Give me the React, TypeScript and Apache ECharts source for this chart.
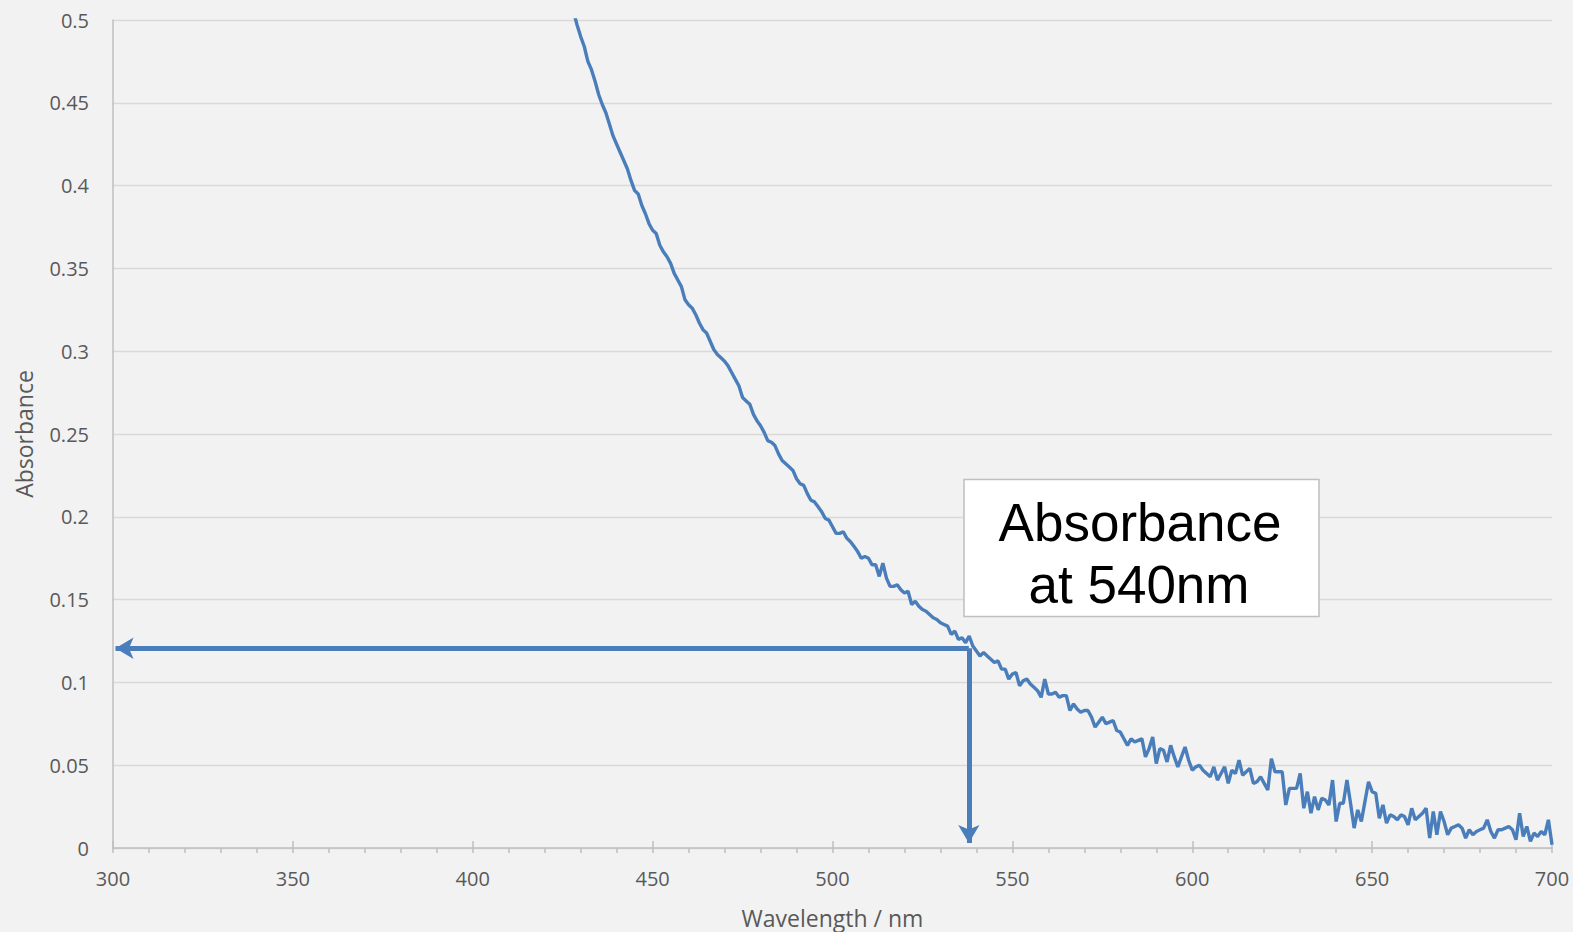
import React, { useEffect, useRef } from "react";
import * as echarts from "echarts";

// Absorbance spectrum, 1 nm steps starting at START_NM
const START_NM = 428;
const absorbance = [
  0.505, 0.497, 0.49, 0.484, 0.475, 0.47, 0.463, 0.455, 0.449, 0.444,
  0.437, 0.43, 0.425, 0.42, 0.415, 0.41, 0.403, 0.397, 0.395, 0.388,
  0.383, 0.377, 0.373, 0.371, 0.364, 0.36, 0.357, 0.353, 0.347, 0.343,
  0.339, 0.331, 0.328, 0.326, 0.322, 0.317, 0.313, 0.311, 0.306, 0.301,
  0.298, 0.296, 0.294, 0.291, 0.287, 0.283, 0.279, 0.272, 0.27, 0.268,
  0.262, 0.258, 0.255, 0.251, 0.246, 0.245, 0.243, 0.238, 0.234, 0.232,
  0.23, 0.228, 0.223, 0.22, 0.219, 0.214, 0.21, 0.209, 0.206, 0.203,
  0.199, 0.198, 0.194, 0.19, 0.19, 0.191, 0.187, 0.185, 0.182, 0.179,
  0.175, 0.176, 0.175, 0.171, 0.171, 0.164, 0.172, 0.163, 0.158, 0.158,
  0.159, 0.156, 0.154, 0.155, 0.147, 0.149, 0.146, 0.144, 0.143, 0.141,
  0.139, 0.138, 0.136, 0.135, 0.134, 0.129, 0.131, 0.126, 0.127, 0.124,
  0.128, 0.122, 0.119, 0.116, 0.118, 0.116, 0.114, 0.112, 0.113, 0.108,
  0.108, 0.102, 0.105, 0.106, 0.098, 0.101, 0.102, 0.099, 0.097, 0.095,
  0.091, 0.102, 0.093, 0.093, 0.094, 0.091, 0.092, 0.092, 0.083, 0.087,
  0.084, 0.082, 0.083, 0.083, 0.079, 0.073, 0.076, 0.079, 0.075, 0.076,
  0.077, 0.071, 0.07, 0.066, 0.062, 0.066, 0.064, 0.065, 0.066, 0.055,
  0.06, 0.067, 0.051, 0.06, 0.059, 0.052, 0.062, 0.055, 0.049, 0.055,
  0.061, 0.053, 0.047, 0.049, 0.05, 0.047, 0.045, 0.043, 0.049, 0.041,
  0.045, 0.049, 0.039, 0.047, 0.045, 0.053, 0.044, 0.046, 0.048, 0.039,
  0.04, 0.043, 0.039, 0.035, 0.054, 0.046, 0.046, 0.046, 0.026, 0.036,
  0.036, 0.036, 0.045, 0.024, 0.034, 0.021, 0.031, 0.023, 0.03, 0.029,
  0.026, 0.041, 0.016, 0.027, 0.027, 0.041, 0.027, 0.012, 0.023, 0.016,
  0.028, 0.04, 0.034, 0.033, 0.018, 0.026, 0.015, 0.02, 0.019, 0.017,
  0.02, 0.019, 0.014, 0.024, 0.017, 0.019, 0.021, 0.024, 0.006, 0.022,
  0.008, 0.022, 0.016, 0.008, 0.012, 0.013, 0.014, 0.012, 0.006, 0.011,
  0.008, 0.01, 0.011, 0.012, 0.017, 0.01, 0.006, 0.011, 0.011, 0.012,
  0.013, 0.011, 0.005, 0.021, 0.007, 0.013, 0.004, 0.009, 0.007, 0.01,
  0.008, 0.017, 0.002,
];
const wavelengths = absorbance.map((_, i) => START_NM + i);

// Annotation arrows (data coordinates)
const readWavelength = 537.9;
const readAbsorbance = 0.1206;
const arrowLeftEnd = 300.7;
const arrowBottomEnd = 0.003;

const xTicks = { min: 300, max: 700, interval: 50 };
const yTicks = { min: 0, max: 0.5, interval: 0.05 };

const annotationLines = ["Absorbance", "at 540nm"];

const BLUE = "#4a7ebb";
const LABEL = "#595959";
const FONT = "'Open Sans', sans-serif";

export default function App() {
  const ref = useRef<HTMLDivElement>(null);

  useEffect(() => {
    document.body.style.margin = "0";
    if (!ref.current) return;
    const chart = echarts.init(ref.current, null, { renderer: "svg" });
    const seriesData = wavelengths.map((w, i) => [w, absorbance[i]]);

    chart.setOption({
      animation: false,
      backgroundColor: "#f2f2f2",
      grid: {
        left: 113,
        right: 21,
        top: 20,
        bottom: 84,
        containLabel: false,
        outerBoundsMode: "none",
      },
      xAxis: [
        {
          type: "value",
          min: xTicks.min,
          max: xTicks.max,
          interval: xTicks.interval,
          position: "bottom",
          name: "Wavelength / nm",
          nameLocation: "middle",
          nameGap: 58,
          nameTextStyle: { color: LABEL, fontSize: 23, fontFamily: FONT },
          axisLine: { show: true, lineStyle: { color: "#bfbfbf", width: 1.5 } },
          axisTick: { show: true, inside: false, length: 5, lineStyle: { color: "#bfbfbf", width: 1.5 } },
          minorTick: { show: true, splitNumber: 5, length: 5, lineStyle: { color: "#bfbfbf", width: 1.5 } },
          axisLabel: { color: LABEL, fontSize: 20, fontFamily: FONT, margin: 20 },
          splitLine: { show: false },
        },
        {
          type: "value",
          min: xTicks.min,
          max: xTicks.max,
          interval: xTicks.interval,
          position: "bottom",
          offset: 0,
          axisLine: { show: false },
          axisTick: { show: true, inside: true, length: 7, lineStyle: { color: "#bfbfbf", width: 1.5 } },
          axisLabel: { show: false },
          splitLine: { show: false },
        },
      ],
      yAxis: {
        type: "value",
        min: yTicks.min,
        max: yTicks.max,
        interval: yTicks.interval,
        name: "Absorbance",
        nameLocation: "middle",
        nameRotate: 90,
        nameGap: 78,
        nameTextStyle: { color: LABEL, fontSize: 23, fontFamily: FONT },
        axisLine: { show: true, lineStyle: { color: "#bfbfbf", width: 1.5 } },
        axisTick: { show: false },
        axisLabel: { color: LABEL, fontSize: 20, fontFamily: FONT, margin: 24 },
        splitLine: { show: true, lineStyle: { color: "#d9d9d9", width: 1.3 } },
      },
      series: [
        {
          type: "line",
          xAxisIndex: 0,
          data: seriesData,
          showSymbol: false,
          clip: true,
          lineStyle: { color: BLUE, width: 3.4 },
          itemStyle: { color: BLUE },
          silent: true,
          markLine: {
            silent: true,
            symbol: ["none", "arrow"],
            symbolSize: [16, 18],
            label: { show: false },
            lineStyle: { color: BLUE, width: 5, type: "solid", opacity: 1 },
            itemStyle: { color: BLUE },
            emphasis: { disabled: true },
            data: [
              [
                { coord: [readWavelength, readAbsorbance] },
                { coord: [arrowLeftEnd, readAbsorbance] },
              ],
              [
                { coord: [readWavelength, readAbsorbance] },
                { coord: [readWavelength, arrowBottomEnd] },
              ],
            ],
          },
        },
      ],
      graphic: [
        {
          type: "rect",
          shape: { x: 964, y: 479.5, width: 355, height: 137 },
          style: { fill: "#ffffff", stroke: "#bfbfbf", lineWidth: 1.5 },
          z: 100,
        },
        {
          type: "text",
          x: 1140,
          y: 522.5,
          style: {
            text: annotationLines[0],
            fill: "#000000",
            font: "53px 'Liberation Sans', Arial, sans-serif",
            textAlign: "center",
            textVerticalAlign: "middle",
          },
          z: 101,
        },
        {
          type: "text",
          x: 1139,
          y: 584.5,
          style: {
            text: annotationLines[1],
            fill: "#000000",
            font: "53px 'Liberation Sans', Arial, sans-serif",
            textAlign: "center",
            textVerticalAlign: "middle",
          },
          z: 101,
        },
      ],
    });

    return () => chart.dispose();
  }, []);

  return (
    <div
      ref={ref}
      style={{ position: "fixed", left: 0, top: 0, width: 1573, height: 932 }}
    />
  );
}
